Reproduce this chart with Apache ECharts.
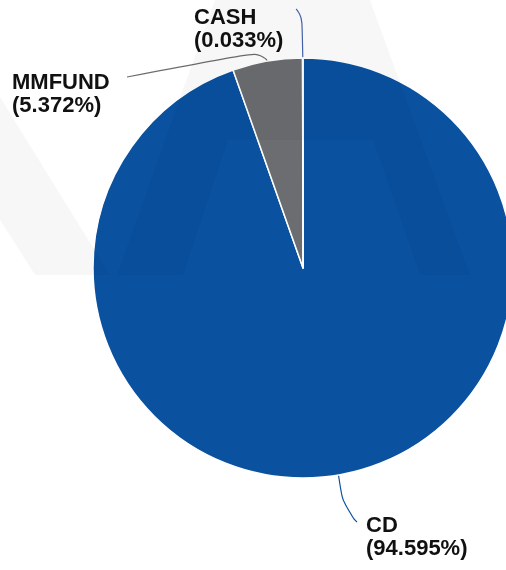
<!DOCTYPE html>
<html>
<head>
<meta charset="utf-8">
<script src="https://cdn.jsdelivr.net/npm/echarts@6/dist/echarts.min.js"></script>
<style>
    html, body { margin: 0; padding: 0; background: #fff; }
    #main { width: 506px; height: 570px; }
</style>
</head>
<body>
<div id="main"></div>
<script>
// 数据
const names = ['CD', 'MMFUND', 'CASH'];
const shares = [94.595, 5.372, 0.033];
const colors = ['#0a51a0', '#6c6d70', '#4565ad'];

// 标签位置 (左上角)
const labelPos = [[366, 514], [12, 71], [194, 6]];

let pieData = [];
for (let i in names) {
    pieData.push({ name: names[i], value: shares[i], itemStyle: { color: colors[i] } });
}

let myChart = echarts.init(document.getElementById('main'));

// 背景水印 (淡灰色)
const wm = 'rgba(0, 0, 0, 0.032)';
let watermark = [
    [[-140, 0], [-60, 0], [110, 275], [35, 275]],
    [[215, 0], [370, 0], [421, 140], [165, 140]],
    [[165, 140], [228, 140], [183, 275], [117, 275]],
    [[373, 140], [421, 140], [470, 275], [420, 275]]
].map(function (pts) {
    return { type: 'polygon', z: 100, silent: true, shape: { points: pts }, style: { fill: wm } };
});

let option = {
    animation: false,
    graphic: watermark,
    series: [{
        type: 'pie',
        center: [303, 268],
        radius: 210,
        startAngle: 90,
        clockwise: true,
        avoidLabelOverlap: false,
        data: pieData,
        itemStyle: { borderColor: '#fff', borderWidth: 1.5 },
        label: {
            show: true,
            formatter: '{b}\n({c}%)',
            fontFamily: 'Liberation Sans, Arial, sans-serif',
            fontWeight: 'bold',
            fontSize: 22,
            lineHeight: 23,
            color: '#111'
        },
        labelLine: {
            show: true,
            smooth: 0.8,
            lineStyle: { width: 1.2 }
        },
        labelLayout: function (params) {
            let i = params.dataIndex;
            let p0 = params.labelLinePoints ? params.labelLinePoints[0] : [303, 58];
            let pts;
            if (i == 0) {
                pts = [p0, [344, 512], [357, 522]];
            } else if (i == 1) {
                pts = [p0, [263, 51], [127, 77]];
            } else {
                pts = [p0, [302, 13], [296, 9]];
            }
            return {
                x: labelPos[i][0],
                y: labelPos[i][1],
                align: 'left',
                verticalAlign: 'top',
                labelLinePoints: pts
            };
        }
    }]
};

myChart.setOption(option);
</script>
</body>
</html>
